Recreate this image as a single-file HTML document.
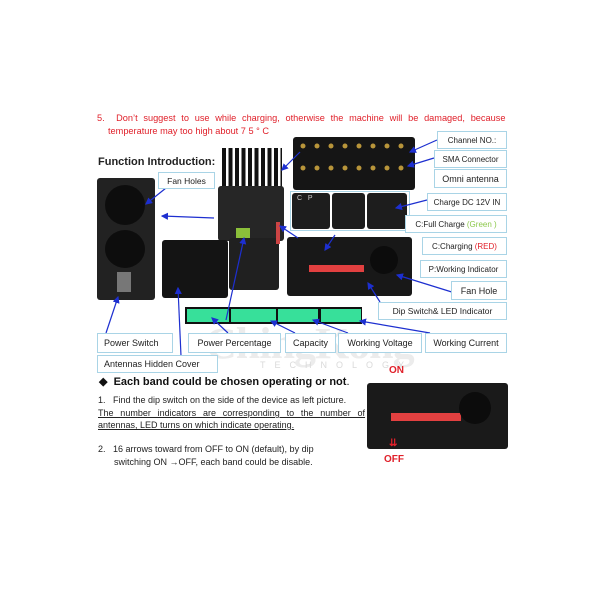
<!DOCTYPE html>
<html><head><meta charset="utf-8"><style>
body{margin:0;width:600px;height:600px;background:#fff;position:relative;overflow:hidden;font-family:"Liberation Sans",sans-serif}
.a{position:absolute}
.lb{position:absolute;border:1px solid #a9d4e6;background:#fff;font-size:8.5px;color:#222;display:flex;align-items:center;justify-content:center;box-sizing:border-box;white-space:nowrap}
.blk{position:absolute;background:#1c1c1c;border-radius:3px}
.t{position:absolute;font-size:8.2px;color:#222;white-space:nowrap}
</style></head><body>
<div class="t" style="left:97px;top:113px;color:#e0202a;font-size:9.2px;word-spacing:3.2px">5.&nbsp; Don’t suggest to use while charging, otherwise the machine will be damaged, because</div>
<div class="t" style="left:108px;top:126px;color:#e0202a;font-size:9.2px">temperature may too high about 7 5 ° C</div>
<div class="t" style="left:98px;top:156px;font-size:11px;font-weight:bold;color:#222">Function Introduction:</div>

<!-- watermark -->
<div class="a" style="left:205px;top:318px;font-family:'Liberation Serif',serif;font-size:44px;font-weight:bold;color:#ececec;letter-spacing:-1px">ChingKong</div>
<div class="a" style="left:260px;top:360px;font-size:9px;color:#dadada;letter-spacing:9px">TECHNOLOGY</div>

<!-- top antenna box -->
<div class="blk" style="left:293px;top:137px;width:122px;height:53px;background:#151515"></div>
<svg class="a" style="left:293px;top:137px" width="122" height="53">
<g fill="#b8953a">
<circle cx="10" cy="9" r="2.5"/><circle cx="24" cy="9" r="2.5"/><circle cx="38" cy="9" r="2.5"/><circle cx="52" cy="9" r="2.5"/><circle cx="66" cy="9" r="2.5"/><circle cx="80" cy="9" r="2.5"/><circle cx="94" cy="9" r="2.5"/><circle cx="108" cy="9" r="2.5"/>
<circle cx="10" cy="31" r="2.5"/><circle cx="24" cy="31" r="2.5"/><circle cx="38" cy="31" r="2.5"/><circle cx="52" cy="31" r="2.5"/><circle cx="66" cy="31" r="2.5"/><circle cx="80" cy="31" r="2.5"/><circle cx="94" cy="31" r="2.5"/><circle cx="108" cy="31" r="2.5"/></g></svg>

<!-- left fan panel -->
<div class="blk" style="left:97px;top:178px;width:58px;height:122px;background:#222"></div>
<div class="a" style="left:105px;top:185px;width:40px;height:40px;border-radius:50%;background:#0d0d0d"></div>
<div class="a" style="left:105px;top:230px;width:40px;height:38px;border-radius:50%;background:#0d0d0d"></div>
<div class="a" style="left:117px;top:272px;width:14px;height:20px;background:#777"></div>

<!-- main device -->
<div class="a" style="left:222px;top:148px;width:60px;height:42px;background:repeating-linear-gradient(90deg,#111 0 4px,#fff 4px 6.5px)"></div>
<div class="blk" style="left:218px;top:186px;width:66px;height:55px;background:#262626"></div>
<div class="blk" style="left:229px;top:238px;width:50px;height:52px;background:#202020"></div>
<div class="a" style="left:236px;top:228px;width:14px;height:10px;background:#8bbf3a"></div>
<div class="a" style="left:276px;top:222px;width:4px;height:22px;background:#c44"></div>

<!-- cover -->
<div class="blk" style="left:162px;top:240px;width:66px;height:58px;background:#141414"></div>

<!-- small pics -->
<div class="a" style="left:290px;top:191px;width:120px;height:40px;border:1px solid #a9d4e6;box-sizing:border-box;background:#fff"></div>
<div class="blk" style="left:292px;top:193px;width:38px;height:36px;background:#1d1d1d"></div>
<div class="blk" style="left:332px;top:193px;width:33px;height:36px;background:#1d1d1d"></div>
<div class="blk" style="left:367px;top:193px;width:40px;height:36px;background:#1d1d1d"></div>
<div class="t" style="left:297px;top:195px;color:#ccc;font-size:7px">C&nbsp;&nbsp; P</div>

<!-- side panel -->
<div class="blk" style="left:287px;top:237px;width:125px;height:59px;background:#181818"></div>
<div class="a" style="left:309px;top:265px;width:55px;height:7px;background:#e24040"></div>
<div class="a" style="left:370px;top:246px;width:28px;height:28px;border-radius:50%;background:#0c0c0c"></div>

<!-- LCD -->
<div class="a" style="left:185px;top:307px;width:177px;height:17px;background:#111"></div>
<div class="a" style="left:187px;top:309px;width:42px;height:13px;background:#37e09a"></div>
<div class="a" style="left:231px;top:309px;width:45px;height:13px;background:#37e09a"></div>
<div class="a" style="left:278px;top:309px;width:40px;height:13px;background:#37e09a"></div>
<div class="a" style="left:321px;top:309px;width:40px;height:13px;background:#37e09a"></div>

<!-- arrows -->
<svg class="a" style="left:0;top:0" width="600" height="600">
<defs><marker id="m" markerWidth="6" markerHeight="6" refX="5" refY="3" orient="auto"><path d="M0,0L6,3L0,6z" fill="#1d2fd0"/></marker></defs>
<g stroke="#1d2fd0" stroke-width="1.2" fill="none" marker-end="url(#m)">
<line x1="437" y1="140" x2="410" y2="152"/>
<line x1="434" y1="158" x2="408" y2="166"/>
<line x1="300" y1="152" x2="282" y2="170"/>
<line x1="427" y1="200" x2="396" y2="208"/>
<line x1="166" y1="188" x2="146" y2="204"/>
<line x1="214" y1="218" x2="162" y2="216"/>
<line x1="335" y1="235" x2="325" y2="250"/>
<line x1="455" y1="293" x2="397" y2="275"/>
<line x1="380" y1="302" x2="368" y2="283"/>
<line x1="298" y1="238" x2="280" y2="226"/>
<line x1="106" y1="333" x2="118" y2="297"/>
<line x1="181" y1="356" x2="178" y2="288"/>
<line x1="226" y1="320" x2="244" y2="238"/>
<line x1="228" y1="333" x2="212" y2="318"/>
<line x1="295" y1="333" x2="271" y2="321"/>
<line x1="348" y1="333" x2="313" y2="320"/>
<line x1="430" y1="333" x2="360" y2="321"/>
</g></svg>

<!-- labels -->
<div class="lb" style="left:437px;top:131px;width:70px;height:18px;font-size:8px">Channel NO.:</div>
<div class="lb" style="left:434px;top:150px;width:73px;height:18px;font-size:8px">SMA Connector</div>
<div class="lb" style="left:434px;top:169px;width:73px;height:19px;font-size:9px">Omni antenna</div>
<div class="lb" style="left:427px;top:193px;width:80px;height:18px;font-size:8px">Charge DC 12V IN</div>
<div class="lb" style="left:405px;top:215px;width:102px;height:18px;font-size:8px">C:Full Charge&nbsp;<span style="color:#8cc84b">(Green )</span></div>
<div class="lb" style="left:422px;top:237px;width:85px;height:18px;font-size:8px">C:Charging&nbsp;<span style="color:#e0202a">(RED)</span></div>
<div class="lb" style="left:420px;top:260px;width:87px;height:18px;font-size:8px">P:Working Indicator</div>
<div class="lb" style="left:451px;top:281px;width:56px;height:19px;font-size:9px">Fan Hole</div>
<div class="lb" style="left:378px;top:302px;width:129px;height:18px;font-size:8.5px">Dip Switch&amp; LED Indicator</div>
<div class="lb" style="left:158px;top:172px;width:57px;height:17px;font-size:8.5px">Fan Holes</div>
<div class="lb" style="left:97px;top:333px;width:76px;height:20px;font-size:9px;justify-content:flex-start;padding-left:6px">Power Switch</div>
<div class="lb" style="left:188px;top:333px;width:93px;height:20px;font-size:9px">Power Percentage</div>
<div class="lb" style="left:285px;top:333px;width:51px;height:20px;font-size:9px">Capacity</div>
<div class="lb" style="left:338px;top:333px;width:84px;height:20px;font-size:9px">Working Voltage</div>
<div class="lb" style="left:425px;top:333px;width:82px;height:20px;font-size:9px">Working Current</div>
<div class="lb" style="left:97px;top:355px;width:121px;height:18px;font-size:9px;justify-content:flex-start;padding-left:6px">Antennas Hidden Cover</div>

<!-- bottom -->
<div class="t" style="left:99px;top:375px;font-size:11px;font-weight:bold;color:#111">◆&nbsp; Each band could be chosen operating or not<span style="font-weight:normal">.</span></div>
<div class="t" style="left:98px;top:395px;font-size:9px">1.&nbsp;&nbsp; Find the dip switch on the side of the device as left picture.</div>
<div class="t" style="left:98px;top:408px;font-size:9px;text-decoration:underline;word-spacing:4.3px">The number indicators are corresponding to the number of</div>
<div class="t" style="left:98px;top:420px;font-size:9px;text-decoration:underline">antennas, LED turns on which indicate operating.</div>
<div class="t" style="left:98px;top:444px;font-size:9px">2.&nbsp;&nbsp; 16 arrows toward from OFF to ON (default), by dip</div>
<div class="t" style="left:114px;top:457px;font-size:9px">switching ON →OFF, each band could be disable.</div>

<div class="t" style="left:389px;top:365px;color:#e0202a;font-size:10px;font-weight:bold">ON</div>
<div class="blk" style="left:367px;top:383px;width:141px;height:66px;background:#1a1a1a"></div>
<div class="a" style="left:391px;top:413px;width:70px;height:8px;background:#e24040"></div>
<div class="a" style="left:459px;top:392px;width:32px;height:32px;border-radius:50%;background:#0c0c0c"></div>
<div class="t" style="left:389px;top:438px;color:#e0202a;font-size:10px;font-weight:bold">⇊</div>
<div class="t" style="left:384px;top:454px;color:#e0202a;font-size:10px;font-weight:bold">OFF</div>
</body></html>
